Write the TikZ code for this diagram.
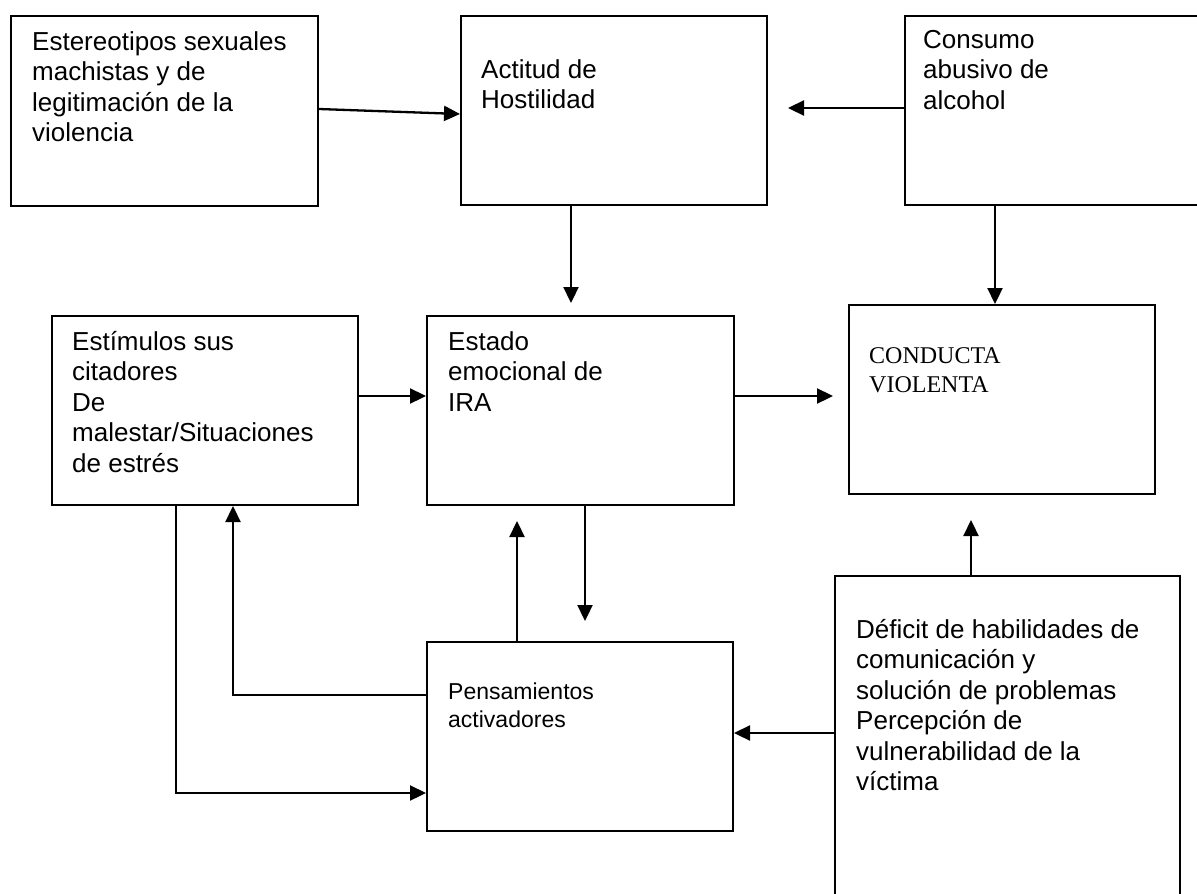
\documentclass[tikz,border=0pt]{standalone}
\usepackage{fontspec}
\setmainfont{Liberation Sans}
\newfontfamily\myserif{Liberation Serif}
\usetikzlibrary{arrows.meta}
\begin{document}
\begin{tikzpicture}[x=1pt,y=-1pt,
  box/.style={draw=black,line width=2pt,inner sep=0pt,anchor=north west},
  txt/.style={anchor=north west,inner sep=0pt,align=left,font=\fontsize{26}{30.5}\selectfont},
  arr/.style={line width=2.3pt,-{Triangle[length=16pt,width=15pt]}},
  ln/.style={line width=2pt}]
\useasboundingbox (0,0) rectangle (1197,894);
% boxes
\node[box,minimum width=307pt,minimum height=190pt] (b1) at (10,15) {};
\node[box,minimum width=306pt,minimum height=189pt] (b2) at (460,15) {};
\node[box,minimum width=310pt,minimum height=189pt] (b3) at (904,15) {};
\node[box,minimum width=306pt,minimum height=189pt] (b4) at (51,315) {};
\node[box,minimum width=307pt,minimum height=189pt] (b5) at (426,315) {};
\node[box,minimum width=306pt,minimum height=189pt] (b6) at (848,304) {};
\node[box,minimum width=306pt,minimum height=189pt] (b7) at (426,641) {};
\node[box,minimum width=345pt,minimum height=340pt] (b8) at (834,575) {};
% texts
\node[txt] (t1) at (32,31) {Estereotipos sexuales\\machistas y de\\legitimación de la\\violencia};
\node[txt] (t2) at (481,59) {Actitud de\\Hostilidad};
\node[txt] (t3) at (923,30) {Consumo\\abusivo de\\alcohol};
\node[txt] (t4) at (72,331) {Estímulos sus\\citadores\\De\\malestar/Situaciones\\de estrés};
\node[txt] (t5) at (448,331) {Estado\\emocional de\\IRA};
\node[txt,font=\myserif\fontsize{24}{29}\selectfont] (t6) at (869,347) {CONDUCTA\\VIOLENTA};
\node[txt,font=\fontsize{23}{28}\selectfont] (t7) at (448,683) {Pensamientos\\activadores};
\node[txt] (t8) at (856,619) {Déficit de habilidades de\\comunicación y\\solución de problemas\\Percepción de\\vulnerabilidad de la\\víctima};
% helper coordinates
\coordinate (e2) at (788,108);
\coordinate (e3) at (571,303);
\coordinate (x4) at (995,0);
\coordinate (c5) at (0,396);
\coordinate (e6) at (833,396);
\coordinate (e7) at (517,521);
\coordinate (e8) at (585,621);
\coordinate (e9) at (971,520);
\coordinate (c10) at (0,733);
\coordinate (k11) at (233,695);
\coordinate (k12) at (176,793);
% connectors
\draw[arr] ([yshift=2pt]b1.east) -- ([yshift=-3.5pt]b2.west);
\draw[arr] (b3.west |- e2) -- (e2);
\draw[arr] (b2.south -| e3) -- (e3);
\draw[arr] (b3.south -| x4) -- (b6.north -| x4);
\draw[arr] (b4.east |- c5) -- (b5.west |- c5);
\draw[arr] (b5.east |- c5) -- (e6);
\draw[arr] (b7.north -| e7) -- (e7);
\draw[arr] (b5.south -| e8) -- (e8);
\draw[arr] (b8.north -| e9) -- (e9);
\draw[arr] (b8.west |- c10) -- (b7.east |- c10);
\draw[arr] (b7.west |- k11) -- (k11) -- (b4.south -| k11);
\draw[arr] (b4.south -| k12) -- (k12) -- (b7.west |- k12);
\end{tikzpicture}
\end{document}
